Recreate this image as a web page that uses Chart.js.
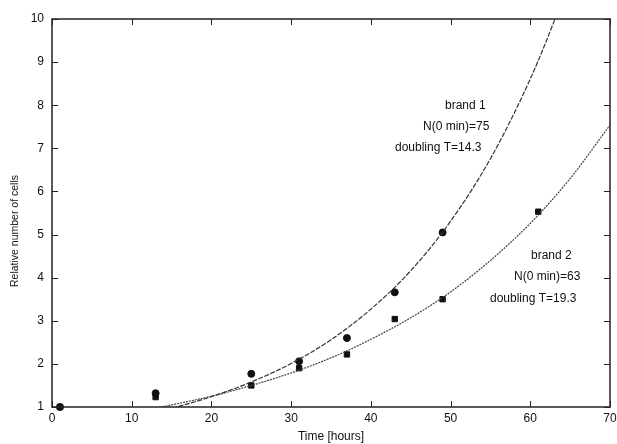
<!DOCTYPE html>
<html>
<head>
<meta charset="utf-8">
<script src="https://cdn.jsdelivr.net/npm/chart.js@4.4.1/dist/chart.umd.min.js"></script>
<style>
  html, body { margin: 0; padding: 0; background: #fff; }
  #wrap { width: 617px; height: 444px; }
</style>
</head>
<body>
<div id="wrap"><canvas id="cells" width="617" height="444"></canvas></div>
<script>
// measured points
const brand1Hours = [1, 13, 25, 31, 37, 43, 49];
const brand1Cells = [1.0, 1.32, 1.77, 2.06, 2.6, 3.66, 5.05];
const brand2Hours = [1, 13, 25, 31, 37, 43, 49, 61];
const brand2Cells = [1.0, 1.23, 1.5, 1.9, 2.22, 3.04, 3.5, 5.53];

// fitted curves
const fit1Hours = [13.5, 15, 20, 25, 30, 35, 40, 45, 50, 55, 60, 63.1, 64];
const fit1Cells = [0.9, 0.97, 1.24, 1.58, 2.01, 2.56, 3.27, 4.16, 5.31, 6.76, 8.61, 10.0, 10.45];
const fit2Hours = [13.5, 20, 25, 30, 35, 40, 45, 50, 55, 60, 65, 70];
const fit2Cells = [0.99, 1.25, 1.5, 1.79, 2.14, 2.57, 3.07, 3.67, 4.4, 5.26, 6.3, 7.54];

const xTicks = [0, 10, 20, 30, 40, 50, 60, 70];
const yTicks = [1, 2, 3, 4, 5, 6, 7, 8, 9, 10];

const yTitle = "Relative number of cells";
const notes = [
  { text: "brand 1", x: 445, y: 106 },
  { text: "N(0 min)=75", x: 423, y: 127 },
  { text: "doubling T=14.3", x: 395, y: 148 },
  { text: "brand 2", x: 531, y: 256 },
  { text: "N(0 min)=63", x: 514, y: 277 },
  { text: "doubling T=19.3", x: 490, y: 299 }
];

const ink = "#111";
const font = "'Liberation Sans', Arial, sans-serif";

const pts = (xs, ys) => xs.map((x, i) => ({ x, y: ys[i] }));

// box, inward ticks, y title and the text notes
const framePlugin = {
  id: "frame",
  afterDatasetsDraw(chart) {
    const { ctx, chartArea: a, scales } = chart;
    ctx.save();
    ctx.strokeStyle = "#222";
    ctx.lineWidth = 1.5;
    ctx.strokeRect(a.left, a.top, a.right - a.left, a.bottom - a.top);
    ctx.lineWidth = 1;
    ctx.beginPath();
    xTicks.forEach(v => {
      const px = Math.round(scales.x.getPixelForValue(v)) + 0.5;
      ctx.moveTo(px, a.bottom); ctx.lineTo(px, a.bottom - 6);
      ctx.moveTo(px, a.top); ctx.lineTo(px, a.top + 6);
    });
    yTicks.forEach(v => {
      const py = Math.round(scales.y.getPixelForValue(v)) + 0.5;
      ctx.moveTo(a.left, py); ctx.lineTo(a.left + 6, py);
      ctx.moveTo(a.right, py); ctx.lineTo(a.right - 6, py);
    });
    ctx.stroke();

    ctx.fillStyle = ink;
    ctx.font = "12px " + font;
    ctx.textBaseline = "middle";
    notes.forEach(n => ctx.fillText(n.text, n.x, n.y));

    ctx.translate(15, 231);
    ctx.rotate(-Math.PI / 2);
    ctx.textAlign = "center";
    ctx.font = "10.5px " + font;
    ctx.fillText(yTitle, 0, 0);
    ctx.restore();
  }
};

new Chart(document.getElementById("cells"), {
  type: "scatter",
  data: {
    datasets: [
      {
        label: "brand 1 fit",
        data: pts(fit1Hours, fit1Cells),
        showLine: true,
        pointRadius: 0,
        borderColor: "#333",
        borderWidth: 1.2,
        borderDash: [5, 1.5],
        cubicInterpolationMode: "monotone"
      },
      {
        label: "brand 2 fit",
        data: pts(fit2Hours, fit2Cells),
        showLine: true,
        pointRadius: 0,
        borderColor: "#444",
        borderWidth: 1.2,
        borderDash: [2, 1],
        cubicInterpolationMode: "monotone"
      },
      {
        label: "brand 1",
        data: pts(brand1Hours, brand1Cells),
        pointStyle: "circle",
        pointRadius: 3.5,
        backgroundColor: ink,
        borderColor: ink,
        clip: false
      },
      {
        label: "brand 2",
        data: pts(brand2Hours, brand2Cells),
        pointStyle: "rect",
        pointRadius: 3.8,
        backgroundColor: ink,
        borderColor: ink,
        clip: false
      }
    ]
  },
  options: {
    responsive: false,
    animation: false,
    layout: { padding: { top: 19, right: 7, left: 0, bottom: 0 } },
    plugins: {
      legend: { display: false },
      tooltip: { enabled: false }
    },
    scales: {
      x: {
        type: "linear",
        min: 0, max: 70,
        grid: { display: false, drawTicks: false },
        border: { display: false },
        ticks: { stepSize: 10, color: ink, padding: 4, font: { family: font, size: 12 } },
        title: { display: true, text: "Time [hours]", color: ink, padding: { top: 2, bottom: 0 }, font: { family: font, size: 12 } },
        afterFit: s => { s.height = 37; s.paddingLeft = 0; s.paddingRight = 0; }
      },
      y: {
        type: "linear",
        min: 1, max: 10,
        grid: { display: false, drawTicks: false },
        border: { display: false },
        ticks: { stepSize: 1, color: ink, padding: 8, font: { family: font, size: 12 } },
        afterFit: s => { s.width = 52; s.paddingTop = 0; s.paddingBottom = 0; }
      }
    }
  },
  plugins: [framePlugin]
});
</script>
</body>
</html>
